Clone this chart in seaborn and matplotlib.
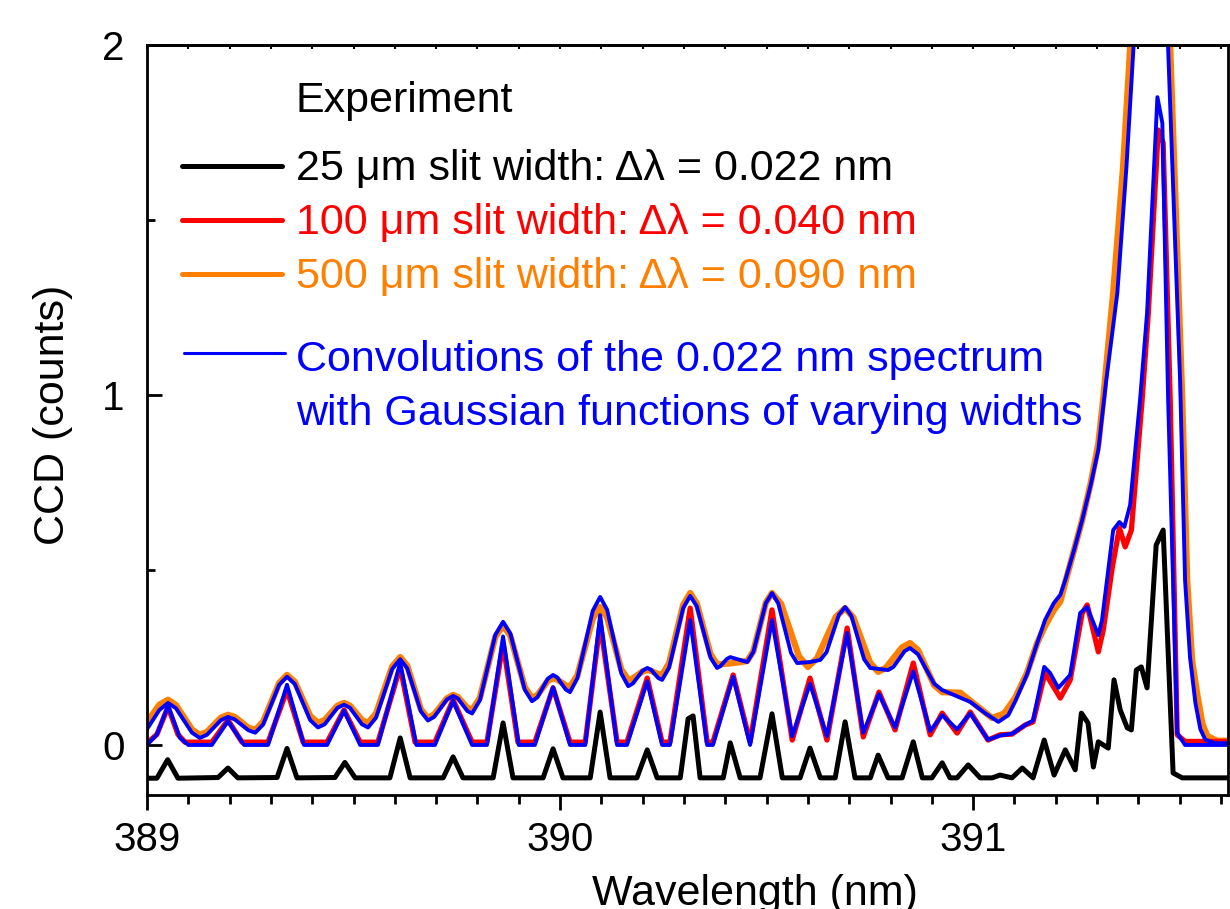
import numpy as np
import pandas as pd
import matplotlib
matplotlib.use("Agg")
import matplotlib.pyplot as plt
import seaborn as sns
from matplotlib.ticker import MultipleLocator

# 25 um slit (offset baseline)
wl_25 = [389.000, 389.024, 389.050, 389.075, 389.172, 389.196, 389.220, 389.315, 389.339, 389.363,
         389.455, 389.479, 389.504, 389.588, 389.613, 389.637, 389.717, 389.741, 389.765, 389.838,
         389.862, 389.886, 389.959, 389.983, 390.007, 390.073, 390.097, 390.121, 390.186, 390.211,
         390.235, 390.291, 390.310, 390.322, 390.339, 390.395, 390.412, 390.436, 390.484, 390.513,
         390.538, 390.581, 390.605, 390.630, 390.666, 390.690, 390.714, 390.751, 390.770, 390.794,
         390.828, 390.855, 390.877, 390.900, 390.925, 390.944, 390.961, 390.988, 391.017, 391.046,
         391.065, 391.094, 391.119, 391.145, 391.172, 391.196, 391.223, 391.247, 391.262, 391.278,
         391.291, 391.303, 391.327, 391.341, 391.356, 391.373, 391.383, 391.395, 391.407, 391.421,
         391.443, 391.460, 391.484, 391.506, 391.617]
ccd_25 = [-0.095, -0.095, -0.042, -0.095, -0.093, -0.066, -0.094, -0.093, -0.010, -0.094,
          -0.093, -0.050, -0.094, -0.094, 0.020, -0.094, -0.094, -0.034, -0.094, -0.094,
          0.063, -0.094, -0.094, -0.011, -0.094, -0.094, 0.094, -0.094, -0.094, -0.014,
          -0.094, -0.094, 0.075, 0.083, -0.094, -0.094, 0.006, -0.094, -0.094, 0.089,
          -0.094, -0.094, -0.009, -0.094, -0.094, 0.066, -0.094, -0.094, -0.029, -0.094,
          -0.094, 0.009, -0.094, -0.094, -0.051, -0.094, -0.094, -0.057, -0.094, -0.094,
          -0.086, -0.094, -0.066, -0.094, 0.014, -0.086, -0.014, -0.071, 0.091, 0.063,
          -0.063, 0.009, -0.009, 0.186, 0.100, 0.049, 0.043, 0.214, 0.223, 0.163,
          0.571, 0.614, -0.080, -0.094, -0.094]

# 100 um slit
wl_100 = [389.000, 389.024, 389.051, 389.075, 389.092, 389.157, 389.196, 389.230, 389.293, 389.339,
          389.378, 389.436, 389.477, 389.516, 389.559, 389.613, 389.649, 389.697, 389.741, 389.787,
          389.823, 389.862, 389.898, 389.939, 389.983, 390.024, 390.061, 390.097, 390.138, 390.162,
          390.211, 390.247, 390.266, 390.315, 390.356, 390.370, 390.419, 390.460, 390.513, 390.562,
          390.605, 390.646, 390.695, 390.734, 390.772, 390.811, 390.855, 390.896, 390.925, 390.961,
          390.993, 391.036, 391.065, 391.094, 391.126, 391.145, 391.174, 391.211, 391.235, 391.264,
          391.276, 391.303, 391.315, 391.337, 391.354, 391.368, 391.383, 391.409, 391.424, 391.448,
          391.460, 391.477, 391.494, 391.513, 391.617]
ccd_100 = [0.005, 0.030, 0.109, 0.030, 0.008, 0.008, 0.071, 0.008, 0.008, 0.157,
           0.008, 0.008, 0.100, 0.008, 0.008, 0.223, 0.008, 0.008, 0.129, 0.008,
           0.008, 0.290, 0.008, 0.008, 0.163, 0.008, 0.008, 0.349, 0.008, 0.008,
           0.191, 0.008, 0.008, 0.391, 0.008, 0.008, 0.200, 0.008, 0.386, 0.014,
           0.191, 0.014, 0.334, 0.023, 0.151, 0.043, 0.234, 0.029, 0.091, 0.034,
           0.094, 0.014, 0.029, 0.031, 0.057, 0.066, 0.206, 0.134, 0.186, 0.377,
           0.400, 0.266, 0.329, 0.509, 0.620, 0.566, 0.614, 0.986, 1.234, 1.757,
           1.720, 0.986, 0.029, 0.010, 0.010]

# 500 um slit
wl_500 = [389.000, 389.030, 389.051, 389.070, 389.109, 389.128, 389.145, 389.179, 389.196, 389.2125,
          389.2455, 389.262, 389.281, 389.320, 389.339, 389.358, 389.395, 389.414, 389.430, 389.461,
          389.477, 389.4915, 389.5205, 389.535, 389.5545, 389.5935, 389.613, 389.630, 389.663, 389.680,
          389.695, 389.726, 389.741, 389.7525, 389.7755, 389.787, 389.806, 389.843, 389.862, 389.8795,
          389.9145, 389.932, 389.945, 389.970, 389.983, 389.993, 390.014, 390.024, 390.042, 390.079,
          390.097, 390.114, 390.148, 390.165, 390.1765, 390.1995, 390.211, 390.220, 390.238, 390.247,
          390.264, 390.298, 390.315, 390.331, 390.364, 390.380, 390.419, 390.453, 390.468, 390.498,
          390.513, 390.535, 390.578, 390.600, 390.6225, 390.6675, 390.690, 390.710, 390.750, 390.770,
          390.789, 390.828, 390.847, 390.8665, 390.9055, 390.925, 390.969, 391.000, 391.046, 391.075,
          391.102, 391.130, 391.155, 391.174, 391.195, 391.211, 391.223, 391.245, 391.264, 391.285,
          391.303, 391.315, 391.339, 391.363, 391.380, 391.450, 391.477, 391.506, 391.518, 391.530,
          391.543, 391.555, 391.567, 391.590, 391.617]
ccd_500 = [0.065, 0.115, 0.129, 0.114, 0.044, 0.029, 0.037, 0.078, 0.086, 0.080,
           0.049, 0.043, 0.066, 0.177, 0.200, 0.180, 0.083, 0.063, 0.071, 0.112,
           0.120, 0.112, 0.071, 0.063, 0.090, 0.224, 0.251, 0.226, 0.102, 0.077,
           0.087, 0.133, 0.143, 0.137, 0.106, 0.100, 0.135, 0.308, 0.343, 0.312,
           0.165, 0.134, 0.142, 0.183, 0.191, 0.187, 0.170, 0.166, 0.199, 0.361,
           0.394, 0.364, 0.216, 0.186, 0.190, 0.210, 0.214, 0.212, 0.202, 0.200,
           0.234, 0.400, 0.434, 0.404, 0.260, 0.230, 0.234, 0.240, 0.268, 0.406,
           0.434, 0.403, 0.254, 0.223, 0.248, 0.366, 0.391, 0.364, 0.236, 0.209,
           0.221, 0.279, 0.291, 0.271, 0.171, 0.151, 0.149, 0.120, 0.077, 0.090,
           0.135, 0.205, 0.291, 0.340, 0.385, 0.410, 0.465, 0.560, 0.643, 0.750,
           0.860, 0.990, 1.291, 1.651, 1.990, 3.400, 1.990, 0.990, 0.470, 0.240,
           0.140, 0.060, 0.025, 0.012, 0.012]

# Gaussian convolutions of the 25 um spectrum
wl_conv_lo = [389.000, 389.024, 389.051, 389.080, 389.100, 389.157, 389.196, 389.235, 389.293, 389.339,
              389.380, 389.436, 389.477, 389.516, 389.559, 389.613, 389.652, 389.697, 389.741, 389.787,
              389.823, 389.862, 389.900, 389.939, 389.983, 390.024, 390.061, 390.097, 390.138, 390.162,
              390.211, 390.247, 390.266, 390.315, 390.356, 390.370, 390.419, 390.460, 390.513, 390.562,
              390.605, 390.646, 390.695, 390.734, 390.772, 390.811, 390.855, 390.896, 390.925, 390.961,
              390.993, 391.036, 391.065, 391.094, 391.126, 391.145, 391.172, 391.186, 391.206, 391.235,
              391.259, 391.276, 391.303, 391.312, 391.339, 391.354, 391.366, 391.380, 391.404, 391.421,
              391.446, 391.458, 391.472, 391.494, 391.513, 391.617]
ccd_conv_lo = [0.000, 0.030, 0.112, 0.020, 0.000, 0.000, 0.068, 0.000, 0.000, 0.172,
               0.000, 0.000, 0.098, 0.000, 0.000, 0.235, 0.000, 0.000, 0.126, 0.000,
               0.000, 0.310, 0.000, 0.000, 0.165, 0.000, 0.000, 0.371, 0.000, 0.000,
               0.182, 0.000, 0.000, 0.357, 0.000, 0.000, 0.195, 0.000, 0.357, 0.025,
               0.175, 0.025, 0.320, 0.035, 0.145, 0.050, 0.210, 0.040, 0.085, 0.045,
               0.090, 0.015, 0.027, 0.032, 0.057, 0.070, 0.223, 0.206, 0.163, 0.200,
               0.377, 0.394, 0.314, 0.357, 0.614, 0.637, 0.623, 0.686, 0.986, 1.234,
               1.851, 1.777, 0.986, 0.034, 0.000, 0.000]

wl_conv_hi = [389.000, 389.030, 389.051, 389.070, 389.109, 389.128, 389.145, 389.179, 389.196, 389.2125,
              389.2455, 389.262, 389.281, 389.320, 389.339, 389.358, 389.395, 389.414, 389.430, 389.461,
              389.477, 389.4915, 389.5205, 389.535, 389.5545, 389.5935, 389.613, 389.630, 389.663, 389.680,
              389.695, 389.726, 389.741, 389.7525, 389.7755, 389.787, 389.806, 389.843, 389.862, 389.8795,
              389.9145, 389.932, 389.945, 389.970, 389.983, 389.993, 390.014, 390.024, 390.042, 390.079,
              390.097, 390.114, 390.148, 390.165, 390.1765, 390.1995, 390.211, 390.220, 390.238, 390.247,
              390.264, 390.298, 390.315, 390.331, 390.364, 390.380, 390.388, 390.404, 390.412, 390.453,
              390.468, 390.498, 390.513, 390.528, 390.559, 390.574, 390.605, 390.630, 390.645, 390.675,
              390.690, 390.705, 390.736, 390.751, 390.794, 390.807, 390.834, 390.847, 390.8665, 390.9055,
              390.925, 390.993, 391.030, 391.061, 391.085, 391.102, 391.130, 391.155, 391.174, 391.195,
              391.211, 391.223, 391.245, 391.264, 391.285, 391.303, 391.322, 391.349, 391.371, 391.388,
              391.450, 391.472, 391.501, 391.513, 391.525, 391.538, 391.550, 391.562, 391.586, 391.617]
ccd_conv_hi = [0.045, 0.100, 0.120, 0.105, 0.035, 0.020, 0.029, 0.071, 0.080, 0.073,
               0.042, 0.035, 0.058, 0.172, 0.195, 0.174, 0.071, 0.050, 0.059, 0.106,
               0.115, 0.106, 0.059, 0.050, 0.078, 0.217, 0.245, 0.219, 0.096, 0.070,
               0.080, 0.130, 0.140, 0.133, 0.097, 0.090, 0.128, 0.314, 0.352, 0.319,
               0.158, 0.125, 0.136, 0.189, 0.200, 0.193, 0.158, 0.151, 0.191, 0.383,
               0.423, 0.386, 0.205, 0.168, 0.176, 0.212, 0.220, 0.215, 0.191, 0.186,
               0.221, 0.391, 0.426, 0.396, 0.250, 0.220, 0.225, 0.246, 0.251, 0.237,
               0.266, 0.405, 0.434, 0.405, 0.263, 0.234, 0.237, 0.243, 0.265, 0.372,
               0.394, 0.369, 0.245, 0.220, 0.214, 0.223, 0.268, 0.277, 0.259, 0.175,
               0.157, 0.123, 0.090, 0.066, 0.085, 0.125, 0.200, 0.291, 0.357, 0.405,
               0.429, 0.471, 0.560, 0.643, 0.745, 0.843, 1.040, 1.291, 1.650, 1.990,
               3.300, 1.990, 1.040, 0.470, 0.250, 0.120, 0.045, 0.015, 0.005, 0.005]

legend_title = "Experiment"
legend_labels = ["25 μm slit width: Δλ = 0.022 nm",
                 "100 μm slit width: Δλ = 0.040 nm",
                 "500 μm slit width: Δλ = 0.090 nm"]
conv_label = ["Convolutions of the 0.022 nm spectrum",
              "with Gaussian functions of varying widths"]

BLACK, RED, ORANGE, BLUE = "#000000", "#ff0000", "#ff8000", "#0000ff"


def main():
    sns.set_style("ticks")
    plt.rcParams['font.family'] = ['Liberation Sans', 'DejaVu Sans']
    plt.rcParams.update({'text.color': 'black', 'axes.labelcolor': 'black',
                         'xtick.color': 'black', 'ytick.color': 'black',
                         'axes.edgecolor': 'black'})
    fs = 31
    tfs = 29

    fig = plt.figure(figsize=(12.3, 9.09), dpi=100)
    ax = fig.add_axes([0.1195, 0.1254, 0.8789, 0.8251])

    # draw the spectra, blue convolutions on top
    sns.lineplot(x=wl_500, y=ccd_500, color=ORANGE, lw=4.6, ax=ax, solid_joinstyle='round')
    sns.lineplot(x=wl_100, y=ccd_100, color=RED, lw=3.8, ax=ax, solid_joinstyle='round')
    sns.lineplot(x=wl_25, y=ccd_25, color=BLACK, lw=3.6, ax=ax, solid_joinstyle='round')
    sns.lineplot(x=wl_conv_hi, y=ccd_conv_hi, color=BLUE, lw=2.8, ax=ax, solid_joinstyle='round')
    sns.lineplot(x=wl_conv_lo, y=ccd_conv_lo, color=BLUE, lw=2.8, ax=ax, solid_joinstyle='round')

    ax.set_xlim(389.0, 391.617)
    ax.set_ylim(-0.143, 2.0)

    ax.xaxis.set_major_locator(MultipleLocator(1))
    ax.xaxis.set_minor_locator(MultipleLocator(0.1))
    ax.yaxis.set_major_locator(MultipleLocator(1))
    ax.yaxis.set_minor_locator(MultipleLocator(0.5))

    ax.tick_params(axis='x', which='major', direction='out', length=11, width=2,
                   labelsize=tfs, pad=8, top=False)
    ax.tick_params(axis='x', which='minor', direction='out', length=6.5, width=2, top=False)
    ax.tick_params(axis='y', which='major', direction='in', length=11, width=2,
                   labelsize=tfs, pad=16, right=False)
    ax.tick_params(axis='y', which='minor', direction='in', length=6, width=2, right=False)

    # little inward ticks on the top frame
    top = ax.secondary_xaxis('top')
    top.xaxis.set_major_locator(MultipleLocator(1))
    top.xaxis.set_minor_locator(MultipleLocator(0.1))
    top.tick_params(which='both', direction='in', length=3, width=1.5, labeltop=False)
    top.spines['top'].set_linewidth(2)

    for s in ax.spines.values():
        s.set_linewidth(2)
        s.set_color('black')
        s.set_visible(True)

    ax.set_xlabel("Wavelength (nm)", fontsize=fs)
    ax.xaxis.set_label_coords(0.5625, -0.105)
    ax.set_ylabel("CCD (counts)", fontsize=fs)
    ax.yaxis.set_label_coords(-0.068, 0.507)

    # hand-built legend
    tx = 0.1378
    ax.text(tx, 0.9107, legend_title, transform=ax.transAxes, fontsize=fs,
            va='baseline', ha='left')
    entries = [(BLACK, 0.8387, 0.820), (RED, 0.7667, 0.748), (ORANGE, 0.6947, 0.676)]
    for (col, ly, ty), lab in zip(entries, legend_labels):
        ax.plot([0.0324, 0.1249], [ly, ly], transform=ax.transAxes, color=col,
                lw=3.6, solid_capstyle='round')
        ax.text(tx, ty, lab, transform=ax.transAxes, fontsize=fs,
                va='baseline', ha='left', color=col)
    ax.plot([0.0342, 0.1277], [0.5893, 0.5893], transform=ax.transAxes, color=BLUE,
            lw=2.2, solid_capstyle='round')
    ax.text(tx, 0.565, conv_label[0], transform=ax.transAxes, fontsize=fs,
            va='baseline', ha='left', color=BLUE)
    ax.text(tx, 0.493, conv_label[1], transform=ax.transAxes, fontsize=fs,
            va='baseline', ha='left', color=BLUE)

    fig.savefig("out.png", dpi=100)
    plt.close(fig)


if __name__ == "__main__":
    main()
